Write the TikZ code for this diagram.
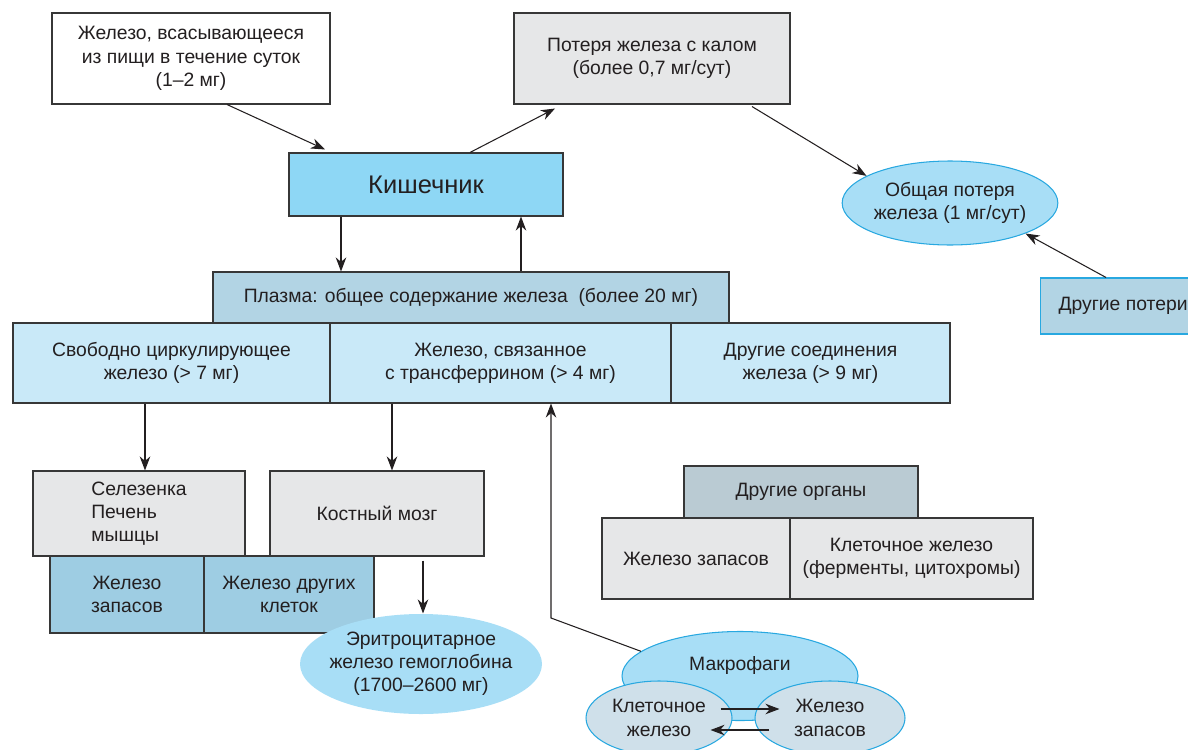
\documentclass[tikz,border=0pt]{standalone}
\usepackage{fontspec}
\setmainfont{Liberation Sans}
\usetikzlibrary{arrows.meta,shapes.geometric}
\definecolor{ink}{RGB}{35,31,32}
\definecolor{frame}{RGB}{55,55,55}
\definecolor{lineblue}{RGB}{40,168,224}
\definecolor{gutblue}{RGB}{142,215,245}
\definecolor{ovalblue}{RGB}{168,222,246}
\definecolor{rowblue}{RGB}{201,233,248}
\definecolor{plasmablue}{RGB}{178,212,228}
\definecolor{storeblue}{RGB}{158,205,227}
\definecolor{organgray}{RGB}{186,203,211}
\definecolor{cellgray}{RGB}{230,231,232}
\definecolor{smallblue}{RGB}{207,224,234}
\begin{document}
\begin{tikzpicture}[
  every node/.style={font=\fontsize{11}{13.2}\selectfont, text=ink, align=center},
  box/.style={draw=frame, line width=0.6pt, inner sep=2pt},
  oval/.style={ellipse, fill=ovalblue, draw=lineblue, line width=0.6pt, inner sep=0pt},
  arr/.style={-{Stealth[length=8pt,width=6pt]}, line width=0.6pt, draw=ink}
]
\useasboundingbox (0,0) rectangle (23.76,-14.98);

% top row
\node[box, fill=white, minimum width=5.56cm, minimum height=1.82cm] (food) at (3.82,-1.17)
  {Железо, всасывающееся\\из пищи в течение суток\\(1–2 мг)};
\node[box, fill=cellgray, minimum width=5.52cm, minimum height=1.82cm] (loss) at (13.04,-1.17)
  {Потеря железа с калом\\(более 0,7 мг/сут)};
\node[box, fill=gutblue, minimum width=5.48cm, minimum height=1.26cm,
  font=\fontsize{14.5}{16}\selectfont] (gut) at (8.52,-3.69) {Кишечник};
\node[oval, minimum width=4.12cm, minimum height=1.68cm] (total) at (19.0,-4.06)
  {Общая потеря\\железа (1 мг/сут)};
\node[box, draw=lineblue, fill=plasmablue, anchor=west, minimum width=3.3cm,
  minimum height=1.12cm] (other) at (20.8,-6.12) {Другие потери};

% plasma
\node[box, fill=rowblue, minimum width=6.34cm, minimum height=1.6cm] (free) at (3.43,-7.26)
  {Свободно циркулирующее\\железо (> 7 мг)};
\node[box, fill=rowblue, minimum width=6.82cm, minimum height=1.6cm] (transf) at (10.01,-7.26)
  {Железо, связанное\\с трансферрином (> 4 мг)};
\node[box, fill=rowblue, minimum width=5.58cm, minimum height=1.6cm] (comp) at (16.21,-7.26)
  {Другие соединения\\железа (> 9 мг)};
\node[box, fill=plasmablue, minimum width=10.32cm, minimum height=1.02cm] (plasma) at (9.42,-5.95)
  {Плазма: общее содержание железа\ \ (более 20 мг)};

% organs
\node[box, fill=cellgray, minimum width=4.24cm, minimum height=1.7cm, align=left] (spleen) at (2.78,-10.27)
  {Селезенка\\Печень\\мышцы};
\node[box, fill=cellgray, minimum width=4.28cm, minimum height=1.7cm] (marrow) at (7.54,-10.27)
  {Костный мозг};
\node[box, fill=storeblue, minimum width=3.08cm, minimum height=1.54cm] (store) at (2.54,-11.89)
  {Железо\\запасов};
\node[box, fill=storeblue, minimum width=3.4cm, minimum height=1.54cm] (cells) at (5.78,-11.89)
  {Железо других\\клеток};
\node[oval, draw=none, inner xsep=-5pt, minimum width=4.84cm, minimum height=2.0cm] (ery) at (8.42,-13.28)
  {Эритроцитарное\\железо гемоглобина\\(1700–2600 мг)};

\node[box, fill=organgray, minimum width=4.68cm, minimum height=1.04cm] (organs) at (16.02,-9.84)
  {Другие органы};
\node[box, fill=cellgray, minimum width=3.76cm, minimum height=1.62cm] (ostore) at (13.92,-11.17)
  {Железо запасов};
\node[box, fill=cellgray, minimum width=4.86cm, minimum height=1.62cm] (ocell) at (18.23,-11.17)
  {Клеточное железо\\(ферменты, цитохромы)};

% macrophages
\node[oval, minimum width=4.72cm, minimum height=1.78cm, text depth=0.5cm] (macro) at (14.8,-13.52)
  {Макрофаги};
\node[oval, fill=smallblue, minimum width=2.92cm, minimum height=1.48cm] (mcell) at (13.18,-14.36)
  {Клеточное\\железо};
\node[oval, fill=smallblue, minimum width=3.0cm, minimum height=1.48cm] (mstore) at (16.6,-14.36)
  {Железо\\запасов};
\coordinate (bend) at (11.02,-12.36);

% arrows
\draw[arr] ([xshift=0.72cm]food.south) -- ([xshift=-2.02cm,yshift=0.06cm]gut.north);
\draw[arr] ([xshift=0.88cm]gut.north) -- ([xshift=-1.94cm,yshift=-0.08cm]loss.south);
\draw[arr] ([xshift=2.0cm,yshift=-0.04cm]loss.south) -- (total.162);
\draw[arr] ([xshift=-0.34cm]other.north) -- (total.-22);
\draw[arr] ([xshift=-1.7cm]gut.south) -- ([xshift=-1.7cm]gut.south |- plasma.north);
\draw[arr] ([xshift=1.9cm]gut.south |- plasma.north) -- ([xshift=1.9cm]gut.south);
\draw[arr] ([xshift=0.12cm]spleen.north |- free.south) -- ([xshift=0.12cm]spleen.north);
\draw[arr] ([xshift=0.3cm]marrow.north |- transf.south) -- ([xshift=0.3cm]marrow.north);
\draw[arr] ([xshift=0.92cm,yshift=-0.08cm]marrow.south) -- ([xshift=0.92cm]marrow.south |- ery.north);
\draw[arr] (macro.166) -- (bend) -- (bend |- transf.south);
\draw[arr] ([xshift=-0.24cm,yshift=0.18cm]mcell.east) -- ([xshift=0.5cm,yshift=0.18cm]mstore.west);
\draw[arr] ([xshift=0.3cm,yshift=-0.24cm]mstore.west) -- ([xshift=-0.44cm,yshift=-0.24cm]mcell.east);
\end{tikzpicture}
\end{document}
